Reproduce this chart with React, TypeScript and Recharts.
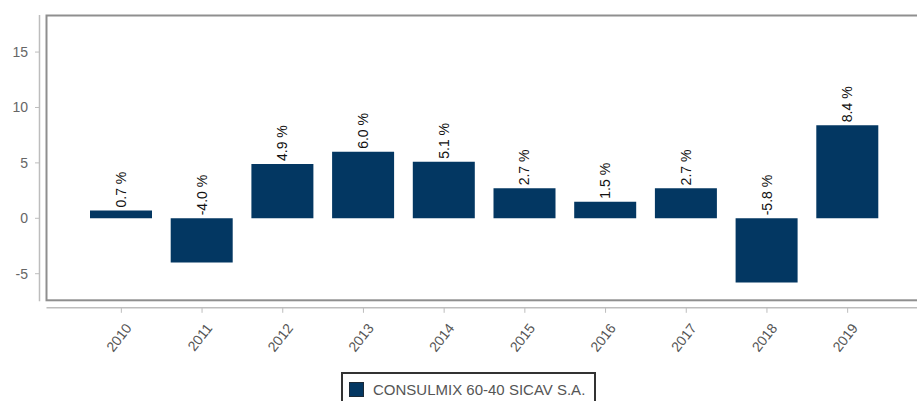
import React from 'react';
import { BarChart, Bar, XAxis, YAxis, Legend, LabelList, Customized } from 'recharts';

const years = ['2010', '2011', '2012', '2013', '2014', '2015', '2016', '2017', '2018', '2019'];
const returns = [0.7, -4.0, 4.9, 6.0, 5.1, 2.7, 1.5, 2.7, -5.8, 8.4];
const yTicks = [-5, 0, 5, 10, 15];
const seriesName = 'CONSULMIX 60-40 SICAV S.A.';

const data = years.map((year, i) => ({ year, value: returns[i] }));

const W = 930;
const H = 401;
const Y_MIN = -7.4;
const Y_MAX = 18.3;
const PLOT_LEFT = 46.5;
const PLOT_TOP = 15.5;
const PLOT_BOTTOM = 300.3;
const PLOT_RIGHT = 922;
const FONT = '"Liberation Sans", Arial, sans-serif';
const BAR_COLOR = '#033762';

const XTick = (props: any) => {
  const { x, y, payload } = props;
  const ax = x + 11;
  const ay = y + 28;
  return (
    <g>
      <line x1={x} x2={x} y1={y + 7.5} y2={y + 12.5} stroke="#bdbdbd" strokeWidth={1} />
      <text
        x={ax}
        y={ay}
        transform={`rotate(-52, ${ax}, ${ay})`}
        textAnchor="end"
        fontSize={14}
        fontFamily={FONT}
        fill="#555"
      >
        {payload.value}
      </text>
    </g>
  );
};

const YTick = (props: any) => {
  const { x, y, payload } = props;
  return (
    <g>
      <line x1={x - 11.5} x2={x - 6.5} y1={y} y2={y} stroke="#bdbdbd" strokeWidth={1} />
      <text x={x - 18.5} y={y} dy={5} textAnchor="end" fontSize={14} fontFamily={FONT} fill="#666">
        {payload.value}
      </text>
    </g>
  );
};

const ValueLabel = (props: any) => {
  const { x, y, width, height, value } = props;
  const top = Math.min(y, y + height);
  const cx = x + width / 2;
  const ay = top - 3;
  return (
    <text
      x={cx}
      y={ay}
      transform={`rotate(-90, ${cx}, ${ay})`}
      textAnchor="start"
      dominantBaseline="central"
      fontSize={14}
      fontFamily={FONT}
      fill="#111"
    >
      {`${Number(value).toFixed(1)} %`}
    </text>
  );
};

const Frame = () => (
  <g>
    <rect
      x={PLOT_LEFT}
      y={PLOT_TOP}
      width={PLOT_RIGHT - PLOT_LEFT}
      height={PLOT_BOTTOM - PLOT_TOP}
      fill="none"
      stroke="#8f8f8f"
      strokeWidth={2}
    />
    <line x1={39.5} x2={39.5} y1={PLOT_TOP - 0.5} y2={PLOT_BOTTOM + 1} stroke="#bdbdbd" strokeWidth={1.5} />
    <line x1={PLOT_LEFT} x2={W} y1={307.8} y2={307.8} stroke="#bdbdbd" strokeWidth={1.5} />
  </g>
);

const LegendBox = () => (
  <div
    style={{
      display: 'flex',
      alignItems: 'center',
      border: '2px solid #333',
      height: 34,
      boxSizing: 'border-box',
      padding: '0 9px 0 6px',
      fontFamily: FONT,
      fontSize: 15,
      color: '#555',
      whiteSpace: 'nowrap',
      background: '#fff',
    }}
  >
    <span
      style={{
        display: 'inline-block',
        width: 15,
        height: 15,
        background: BAR_COLOR,
        border: '1px solid #1b2a38',
        boxSizing: 'border-box',
        marginRight: 9,
      }}
    />
    <span>{seriesName}</span>
  </div>
);

export default function App() {
  return (
    <div style={{ position: 'absolute', left: 0, top: 0, width: 917, height: 401, overflow: 'hidden', background: '#fff' }}>
      <BarChart
        width={W}
        height={H}
        data={data}
        margin={{ top: PLOT_TOP, right: W - PLOT_RIGHT, left: 0, bottom: H - PLOT_BOTTOM - 70 }}
      >
        <Customized component={Frame} />
        <XAxis
          dataKey="year"
          interval={0}
          axisLine={false}
          tickLine={false}
          tickSize={0}
          tickMargin={0}
          height={70}
          padding={{ left: 34.5, right: 34 }}
          tick={<XTick />}
        />
        <YAxis
          type="number"
          domain={[Y_MIN, Y_MAX]}
          ticks={yTicks}
          allowDataOverflow
          width={PLOT_LEFT}
          axisLine={false}
          tickLine={false}
          tickSize={0}
          tickMargin={0}
          tick={<YTick />}
        />
        <Bar dataKey="value" name={seriesName} fill={BAR_COLOR} barSize={62} isAnimationActive={false}>
          <LabelList dataKey="value" content={<ValueLabel />} />
        </Bar>
        <Legend
          verticalAlign="middle"
          align="center"
          layout="horizontal"
          wrapperStyle={{ left: 341, top: 372, width: 'auto', height: 'auto' }}
          content={<LegendBox />}
        />
      </BarChart>
    </div>
  );
}
